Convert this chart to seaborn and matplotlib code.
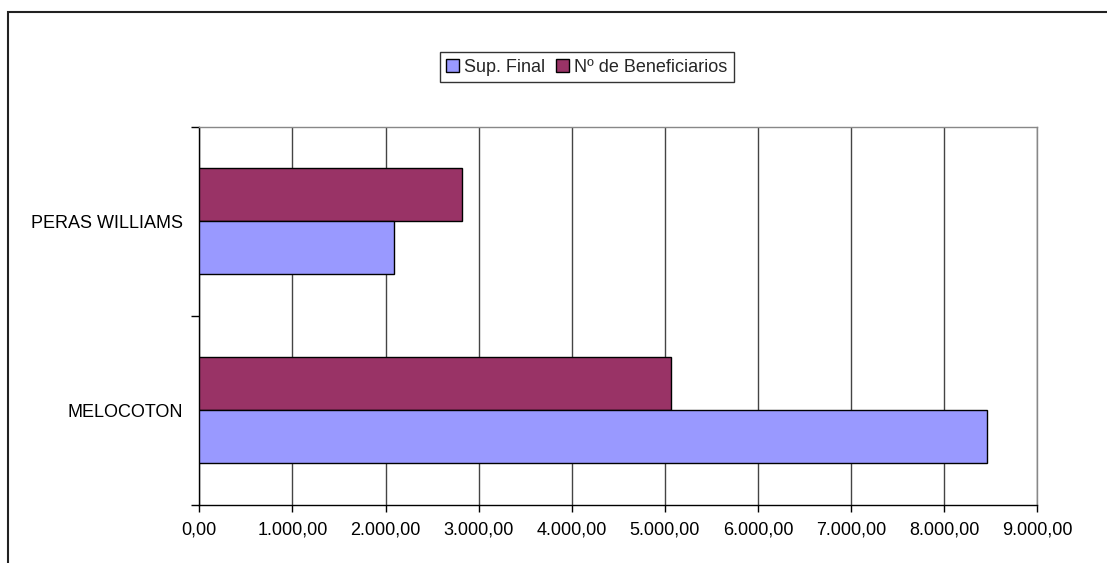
import matplotlib
matplotlib.use("Agg")
import matplotlib.pyplot as plt
import seaborn as sns
import pandas as pd
from matplotlib.patches import Patch, Rectangle
from matplotlib.ticker import FuncFormatter, FixedLocator

categories = ["PERAS WILLIAMS", "MELOCOTON"]
sup_final = [2094, 8464]
beneficiarios = [2818, 5063]
series_names = ["Sup. Final", "Nº de Beneficiarios"]
colors = {"Sup. Final": "#9999FF", "Nº de Beneficiarios": "#993366"}
x_ticks = [0, 1000, 2000, 3000, 4000, 5000, 6000, 7000, 8000, 9000]

df = pd.DataFrame({
    "cat": categories * 2,
    "serie": [series_names[1]] * 2 + [series_names[0]] * 2,
    "val": beneficiarios + sup_final,
})

sns.set_style("white")
plt.rcParams["font.family"] = ["Liberation Sans", "DejaVu Sans"]

W, H = 1107, 563
FS = 13
fig = plt.figure(figsize=(W / 100, H / 100), dpi=100)
ax = fig.add_axes([199.3 / W, 1 - 505 / H, (1037.3 - 199.3) / W, (505 - 126.7) / H])

sns.barplot(data=df, y="cat", x="val", hue="serie", order=categories,
            hue_order=[series_names[1], series_names[0]], palette=colors,
            orient="h", width=0.56, edgecolor="black", linewidth=1.0,
            saturation=1, legend=False, ax=ax, zorder=3)

ax.set_xlim(0, 9000)
ax.set_ylim(1.5, -0.5)
ax.xaxis.set_major_locator(FixedLocator(x_ticks))
ax.xaxis.set_major_formatter(FuncFormatter(
    lambda v, p: f"{v:,.2f}".replace(",", "X").replace(".", ",").replace("X", ".")))
ax.grid(axis="x", color="#444444", linewidth=1.0, zorder=0)
ax.set_axisbelow(True)
ax.set_xlabel("")
ax.set_ylabel("")

ax.set_yticks([0, 1])
ax.set_yticklabels(categories)
ax.set_yticks([-0.5, 0.5, 1.5], minor=True)
ax.tick_params(axis="y", which="major", length=0, pad=12, labelsize=FS, colors="black")
ax.tick_params(axis="y", which="minor", length=6, width=1, color="black", direction="out", left=True)
ax.tick_params(axis="x", which="major", length=5, width=1, color="black", direction="out",
               bottom=True, pad=7, labelsize=FS, labelcolor="black")

for s in ["left", "bottom"]:
    ax.spines[s].set_color("black")
    ax.spines[s].set_linewidth(1.0)
for s in ["top", "right"]:
    ax.spines[s].set_color("#888888")
    ax.spines[s].set_linewidth(1.0)
    ax.spines[s].set_visible(True)

handles = [Patch(facecolor=colors[n], edgecolor="black", linewidth=1.0) for n in series_names]
leg = fig.legend(handles, series_names, loc="center",
                 bbox_to_anchor=(587 / W, 1 - 67 / H), ncol=2, frameon=True,
                 fancybox=False, shadow=False, fontsize=FS, handlelength=0.7,
                 handleheight=0.7, handletextpad=0.3, columnspacing=0.6,
                 borderpad=0.35, borderaxespad=0)
leg.get_frame().set_edgecolor("black")
leg.get_frame().set_linewidth(1.0)

fig.patches.append(Rectangle((8 / W, -0.1), 1.2, (1 - 12 / H) + 0.1,
                             transform=fig.transFigure, fill=False,
                             edgecolor="#222222", linewidth=1.5))

fig.savefig("out.png", dpi=100)
